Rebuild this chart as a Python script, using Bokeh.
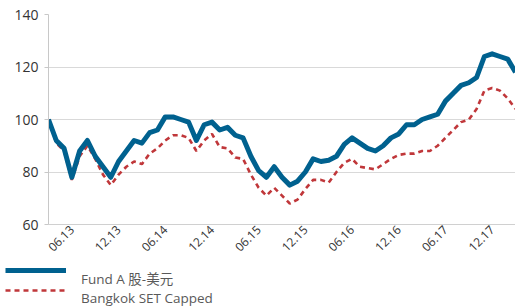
import math
import pandas as pd
from bokeh.plotting import figure
from bokeh.layouts import column, row
from bokeh.models import Legend, LegendItem, FixedTicker, Range1d
from bokeh.embed import file_html
from bokeh.resources import INLINE

# ---- data ----
start_month = "2013-03"
fund_a = [100, 92, 89, 78, 88, 92, 86, 82, 78, 84,
          88, 92, 91, 95, 96, 101, 101, 100, 99, 92,
          98, 99, 96, 97, 94, 93, 86, 80.5, 78, 82,
          78, 75, 76.5, 80, 85, 84, 84.5, 86, 90.5, 93,
          91, 89, 88, 90, 93, 94.5, 98, 98, 100, 101,
          102, 107, 110, 113, 114, 116, 124, 125, 124, 123,
          118]
bangkok = [100, 91, 88, 77, 86, 90, 85, 79, 75, 79,
           82, 84, 83, 87, 89, 92, 94, 94, 93, 88,
           92, 94.5, 89.5, 89, 85.5, 85, 79, 74, 71, 74,
           71, 68, 69.5, 73.5, 77, 77, 76, 80, 83.5, 85,
           82, 81.5, 81, 83, 85, 86.5, 87, 87, 88, 88,
           90, 93, 96, 99, 100, 104, 111, 112, 111, 108,
           104]
series_names = ["Fund A 股-美元", "Bangkok SET Capped"]
y_ticks = [60, 80, 100, 120, 140]

dates = pd.date_range(start_month, periods=len(fund_a), freq="MS")
xs = list(range(len(fund_a)))
tick_idx = [i for i, d in enumerate(dates) if d.month in (6, 12)]
tick_labels = {i: dates[i].strftime("%m.%y") for i in tick_idx}

FONT = "Open Sans, Noto Sans CJK SC"
BLUE = "#00618f"
RED = "#c0373a"
BLUE_STYLE = dict(line_color=BLUE, line_width=5, line_join="round")
RED_STYLE = dict(line_color=RED, line_width=2.6, line_dash="5 4")

p = figure(width=515, height=260, output_backend="svg", toolbar_location=None,
           x_range=Range1d(0, len(fund_a) - 1), y_range=Range1d(60, 140),
           min_border_left=48, min_border_right=0, min_border_top=14,
           min_border_bottom=36)
p.outline_line_color = None
p.background_fill_color = "white"

p.line(xs, bangkok, **RED_STYLE)
p.line(xs, fund_a, **BLUE_STYLE)

# x axis
p.xaxis.ticker = FixedTicker(ticks=tick_idx)
p.xaxis.major_label_overrides = tick_labels
p.xaxis.major_label_orientation = math.pi / 4
p.xaxis.major_tick_line_color = None
p.xaxis.major_tick_out = 0
p.xaxis.major_tick_in = 0
p.xaxis.minor_tick_line_color = None
p.xaxis.axis_line_color = "#d0d0d0"
p.xaxis.major_label_text_font = FONT
p.xaxis.major_label_text_font_size = "12px"
p.xaxis.major_label_text_color = "#333333"
p.xaxis.major_label_standoff = 3

# y axis
p.yaxis.ticker = FixedTicker(ticks=y_ticks)
p.yaxis.axis_line_color = "#c8c8c8"
p.yaxis.major_tick_line_color = "#c8c8c8"
p.yaxis.major_tick_out = 4
p.yaxis.major_tick_in = 0
p.yaxis.minor_tick_line_color = None
p.yaxis.major_label_text_font = FONT
p.yaxis.major_label_text_font_size = "14px"
p.yaxis.major_label_text_color = "#333333"
p.yaxis.major_label_standoff = 6

p.xgrid.grid_line_color = None
p.ygrid.ticker = FixedTicker(ticks=y_ticks)
p.ygrid.grid_line_color = "#d9d9d9"
p.ygrid.grid_line_width = 1.2

# ---- legend strip below the chart ----
nan = float("nan")
lg = figure(width=515, height=46, output_backend="svg", toolbar_location=None,
            x_axis_type=None, y_axis_type=None,
            x_range=Range1d(0, 1), y_range=Range1d(0, 1),
            min_border=0, min_border_left=0, min_border_right=0,
            min_border_top=0, min_border_bottom=0)
lg.outline_line_color = None
lg1 = lg.line([nan], [nan], **BLUE_STYLE)
lg2 = lg.line([nan], [nan], **RED_STYLE)
hid = lg.line([nan], [nan], line_alpha=0)

common = dict(orientation="vertical", glyph_width=61, glyph_height=20,
              label_height=20, spacing=0, padding=0, margin=0,
              label_standoff=15, border_line_color=None,
              background_fill_alpha=0, label_text_font=FONT,
              label_text_font_size="13.5px", label_text_color="#595959")
# symbols
leg_sym = Legend(items=[LegendItem(label=" ", renderers=[lg1]),
                        LegendItem(label=" ", renderers=[lg2])],
                 location=(5, 6), **common)
# labels (sitting slightly lower than their symbols, as in the original)
leg_txt = Legend(items=[LegendItem(label=series_names[0], renderers=[hid]),
                        LegendItem(label=series_names[1], renderers=[hid])],
                 location=(5, -2), **common)
lg.add_layout(leg_sym, "center")
lg.add_layout(leg_txt, "center")

layout = column(p, row(lg), spacing=0)
open("out.html", "w").write(file_html(layout, INLINE))
